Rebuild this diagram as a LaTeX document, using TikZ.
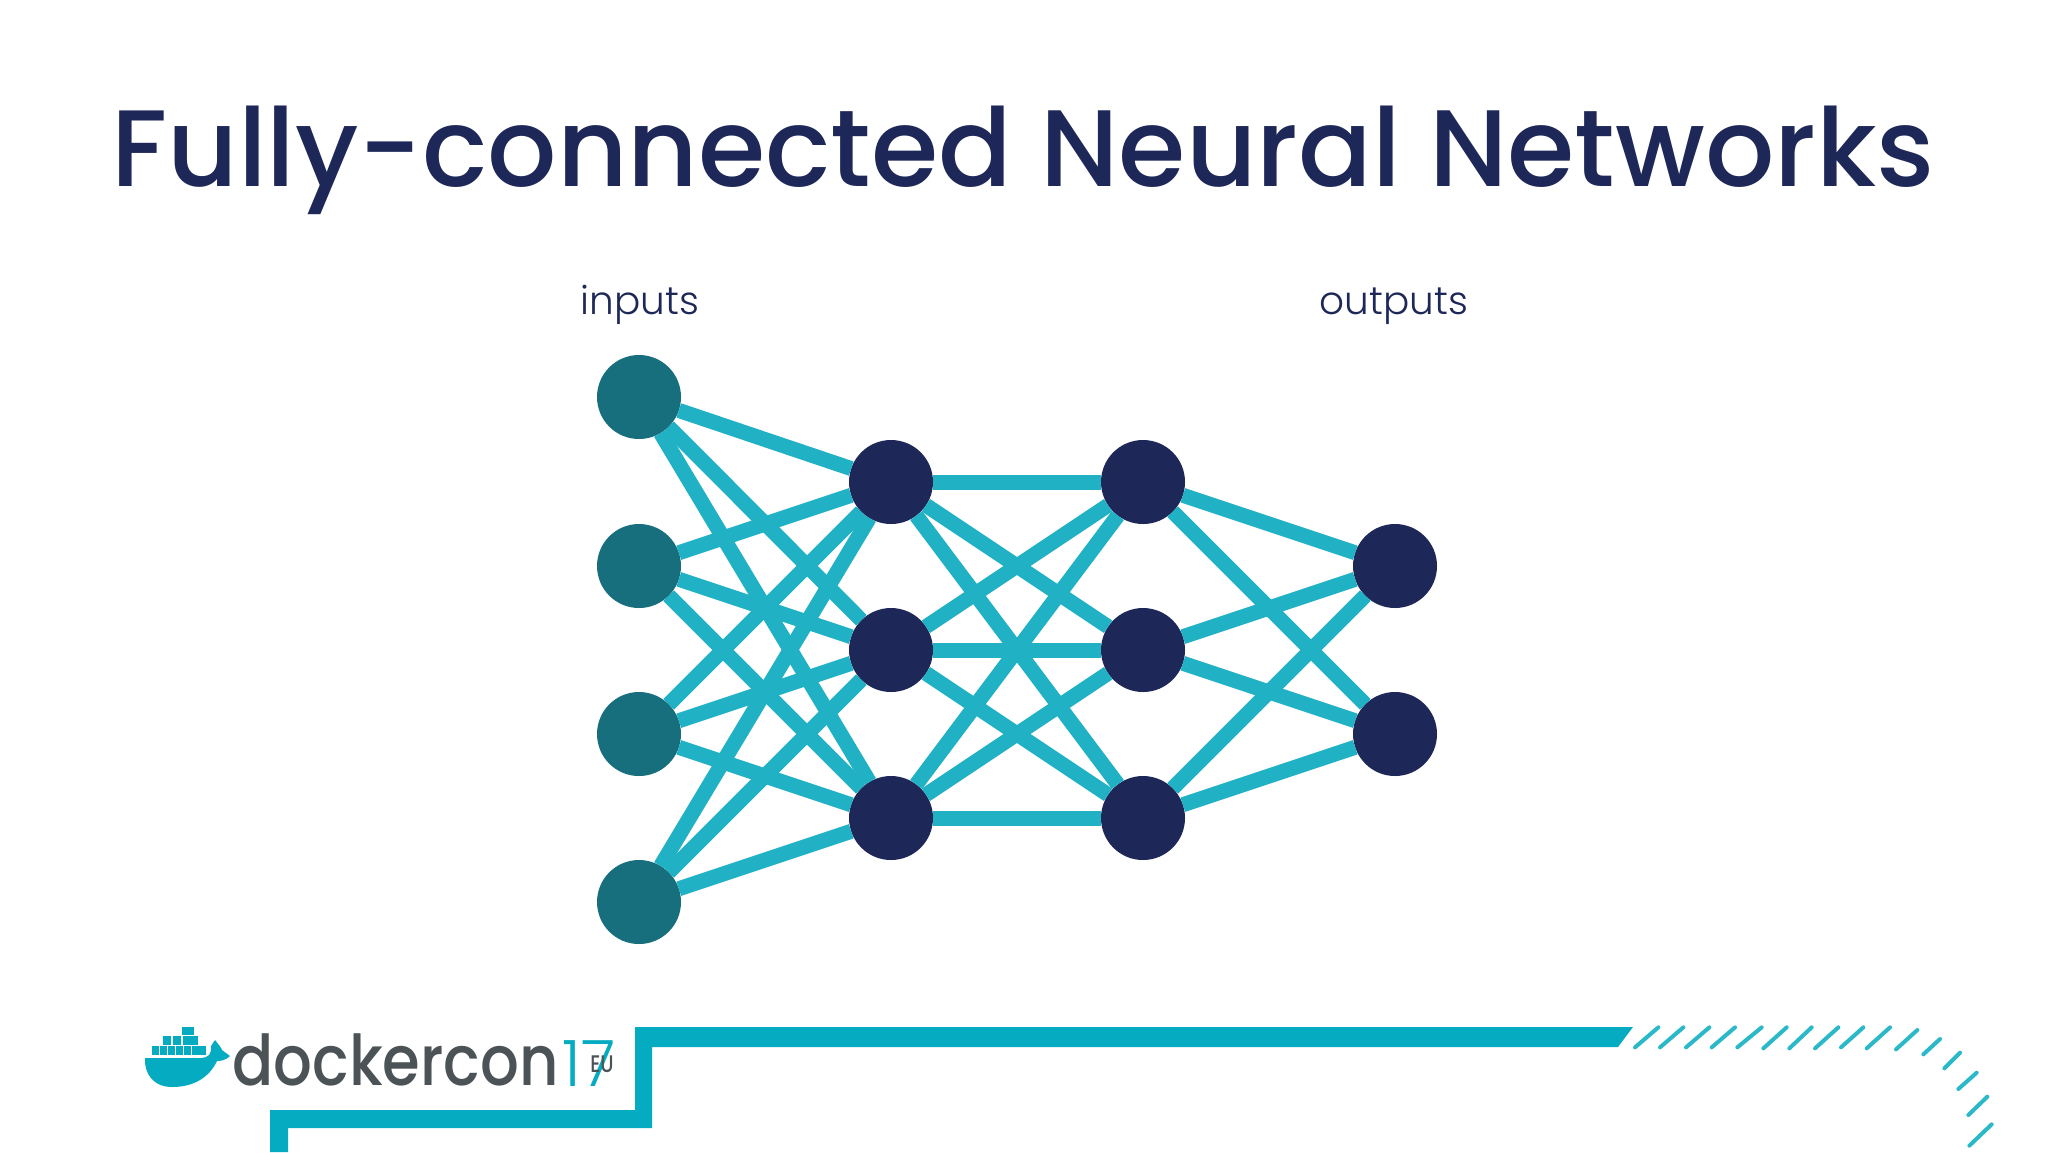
\documentclass[tikz,border=0pt]{standalone}
\usepackage{graphicx}
\usepackage{fontspec}
\setmainfont{Poppins}
\newfontfamily\lightfont{Poppins}[UprightFont=* Light]
\newfontfamily\medfont{Poppins}[UprightFont=* Medium]
\definecolor{edgec}{HTML}{20B1C4}
\definecolor{inc}{HTML}{176E7C}
\definecolor{navy}{HTML}{1E2858}
\definecolor{frame}{HTML}{05ABC0}
\definecolor{greyt}{HTML}{4C5357}
\tikzset{
  x=0.5pt,y=-0.5pt,
  neuron/.style={circle,minimum size=42pt,inner sep=0pt,outer sep=0pt,fill=navy},
  inneuron/.style={neuron,fill=inc},
  wire/.style={edgec,line width=7.5pt},
  lab/.style={inner sep=0pt,outer sep=0pt,text=navy,font=\lightfont\fontsize{19.5}{20}\selectfont,anchor=base},
  hash/.style={frame!85!white,line width=2pt,line cap=round},
}
\begin{document}
\begin{tikzpicture}
\useasboundingbox[fill=white] (0,0) rectangle (2048,1152);
\node[inner sep=0pt,text=navy,anchor=base,font=\medfont\fontsize{54.4}{60}\selectfont] (title) at (1023,186) {Fully-connected Neural Networks};
\node[lab] (linputs) at (640,314) {inputs};
\node[lab] (loutputs) at (1394,314) {outputs};
\foreach \n/\y in {1/397,2/566,3/734,4/902} \node[inneuron] (i\n) at (639,\y) {};
\foreach \n/\y in {1/482,2/650,3/818} {
  \node[neuron] (a\n) at (891,\y) {};
  \node[neuron] (b\n) at (1143,\y) {};
}
\foreach \n/\y in {1/566,2/734} \node[neuron] (o\n) at (1395,\y) {};
\foreach \p in {1,2,3,4} \foreach \q in {1,2,3} \draw[wire] (i\p) -- (a\q);
\foreach \p in {1,2,3} \foreach \q in {1,2,3} \draw[wire] (a\p) -- (b\q);
\foreach \p in {1,2,3} \foreach \q in {1,2} \draw[wire] (b\p) -- (o\q);
% frame
\fill[frame] (1633,1027) -- (1618,1047) -- (652,1047) -- (652,1128) -- (288,1128) -- (288,1152) -- (270,1152) -- (270,1110) -- (635,1110) -- (635,1027) -- cycle;
\begin{scope}[shift={(1580,1000)},x=0.16667pt,y=-0.16667pt]
\foreach \xa/\ya/\xb/\yb in {165/142/235/82,240/142/310/82,318/142/388/82,395/142/465/82,472/142/545/82,550/145/620/82,628/145/695/82,705/145/775/82,783/142/850/82,860/145/930/82,948/148/1012/90,1030/163/1080/117,1093/205/1140/158,1135/267/1190/218,1165/345/1222/290,1168/437/1235/373}
  \draw[hash] (\xa,\ya) -- (\xb,\yb);
\end{scope}
% logo
\fill[frame] (145,1058) -- (201,1058) .. controls (208,1058) and (212,1054) .. (211,1046) -- (215,1040) .. controls (218,1044) and (221,1047) .. (222,1050) -- (230,1056) .. controls (226,1060) and (221,1061) .. (217,1061) .. controls (209,1078) and (193,1087) .. (172,1087) .. controls (153,1087) and (144,1073) .. (145,1058) -- cycle;
\foreach \x in {152,160,168,176,184,192,199} \fill[frame] (\x,1046) rectangle ++(7,9);
\foreach \x in {163,173,183,190} \fill[frame] (\x,1036) rectangle ++(8,9);
\fill[frame] (182,1027) rectangle (194,1035);
\node[inner sep=0pt,anchor=base west,text=greyt,font=\medfont\fontsize{35}{40}\selectfont] (dc) at (232,1085) {\scalebox{.87}[1]{dockercon}};
\node[inner sep=0pt,anchor=base west,text=frame,font=\lightfont\fontsize{32}{34}\selectfont] (yr) at (562,1086) {17};
\node[inner sep=0pt,anchor=base west,text=greyt,font=\medfont\fontsize{12}{13}\selectfont] (eu) at (590,1072) {\scalebox{.8}[1]{EU}};
\end{tikzpicture}
\end{document}
